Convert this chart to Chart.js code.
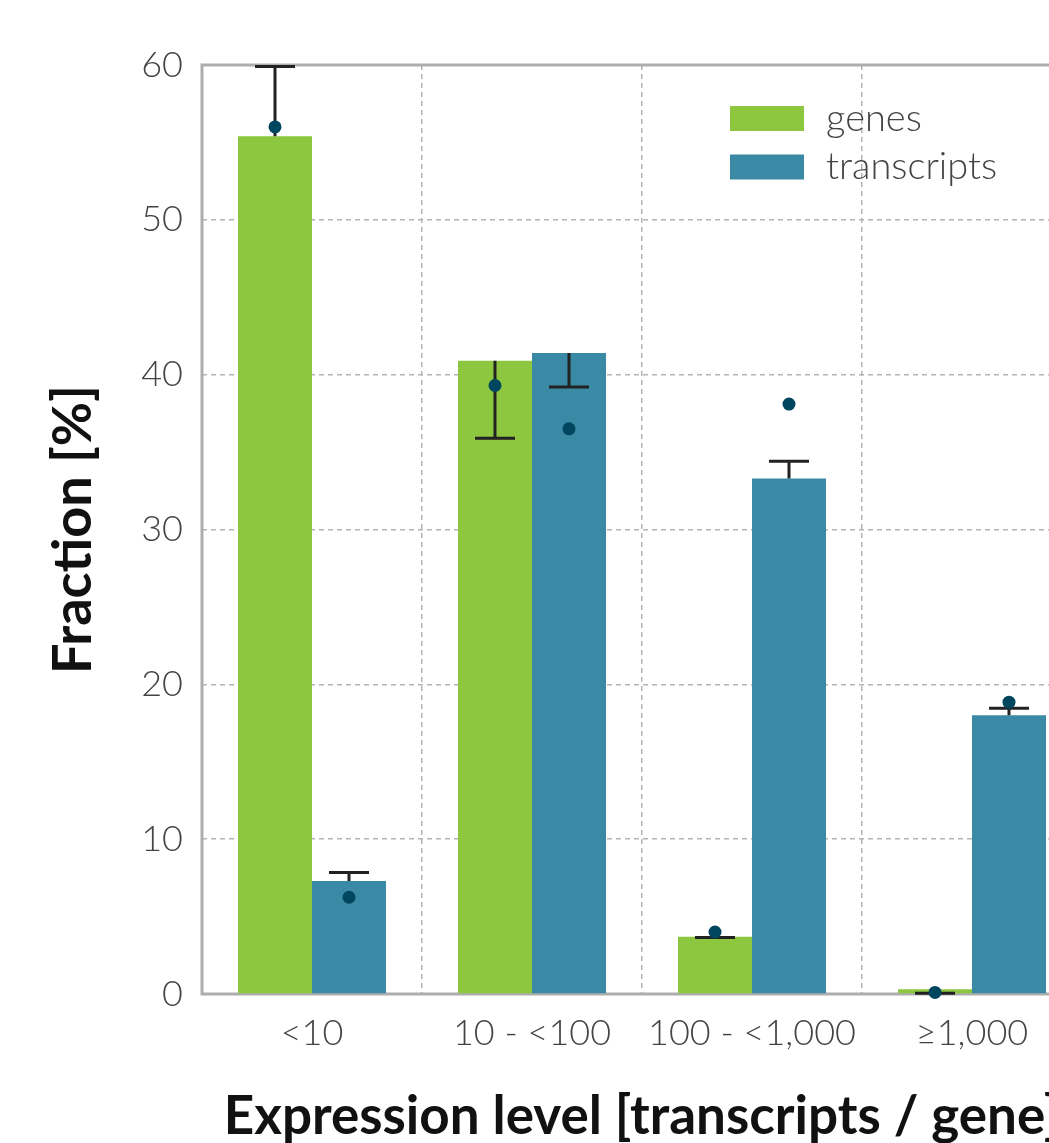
<!DOCTYPE html>
<html>
<head>
<meta charset="utf-8">
<script src="https://cdn.jsdelivr.net/npm/chart.js@4/dist/chart.umd.min.js"></script>
<style>
  html, body { margin: 0; padding: 0; background: #fff; overflow: hidden; }
  #wrap { width: 1100px; height: 1143px; position: relative; }
</style>
</head>
<body>
<div id="wrap"><canvas id="c"></canvas></div>
<script>
const categories = ['<10', '10 - <100', '100 - <1,000', '\u22651,000'];
const seriesNames = ['genes', 'transcripts'];
const genesBar = [55.4, 40.9, 3.7, 0.3];
const genesCap = [59.9, 35.9, 3.65, 0.05];
const genesDot = [56.0, 39.3, 4.0, 0.1];
const transcriptsBar = [7.3, 41.4, 33.3, 18.0];
const transcriptsCap = [7.85, 39.2, 34.4, 18.45];
const transcriptsDot = [6.25, 36.5, 38.1, 18.85];
const yTicks = [0, 10, 20, 30, 40, 50, 60];

const GREEN = '#8dc63f';
const BLUE = '#3a89a5';
const DOT = '#00465f';
const GRID = '#b4b4b4';
const FRAME = '#adadad';
const TICK_FONT = 'Lato';

const caps = [genesCap, transcriptsCap];
const dots = [genesDot, transcriptsDot];

const framePlugin = {
  id: 'frame',
  beforeDatasetsDraw(chart) {
    const {ctx, chartArea: a} = chart;
    ctx.save();
    ctx.strokeStyle = FRAME;
    ctx.lineWidth = 3;
    ctx.setLineDash([]);
    ctx.strokeRect(a.left, a.top, a.right - a.left, a.bottom - a.top);
    ctx.restore();
  }
};

const errPlugin = {
  id: 'errdots',
  afterDatasetsDraw(chart) {
    const {ctx} = chart;
    const y = chart.scales.y;
    ctx.save();
    chart.data.datasets.forEach((ds, i) => {
      const meta = chart.getDatasetMeta(i);
      meta.data.forEach((bar, j) => {
        const x = bar.x;
        const y0 = y.getPixelForValue(ds.data[j]);
        const y1 = y.getPixelForValue(caps[i][j]);
        ctx.strokeStyle = '#222';
        ctx.lineWidth = 3;
        ctx.beginPath();
        ctx.moveTo(x, y0);
        ctx.lineTo(x, y1);
        ctx.moveTo(x - 20, y1);
        ctx.lineTo(x + 20, y1);
        ctx.stroke();
      });
    });
    chart.data.datasets.forEach((ds, i) => {
      const meta = chart.getDatasetMeta(i);
      meta.data.forEach((bar, j) => {
        const yd = y.getPixelForValue(dots[i][j]);
        ctx.fillStyle = DOT;
        ctx.beginPath();
        ctx.arc(bar.x, yd, 6.5, 0, Math.PI * 2);
        ctx.fill();
      });
    });
    ctx.restore();
  }
};

const legendPlugin = {
  id: 'customLegend',
  afterDraw(chart) {
    const {ctx, chartArea: a} = chart;
    ctx.save();
    const x0 = a.left + 528;
    const rows = [a.top + 53.5, a.top + 102];
    chart.data.datasets.forEach((ds, i) => {
      ctx.fillStyle = ds.backgroundColor;
      ctx.fillRect(x0, rows[i] - 12.5, 74, 25);
      ctx.fillStyle = '#444';
      ctx.font = '300 38px ' + TICK_FONT;
      ctx.textBaseline = 'middle';
      ctx.textAlign = 'left';
      ctx.fillText(ds.label, x0 + 96, rows[i]);
    });
    ctx.restore();
  }
};

new Chart(document.getElementById('c'), {
  type: 'bar',
  data: {
    labels: categories,
    datasets: [
      { label: seriesNames[0], data: genesBar, backgroundColor: GREEN, borderWidth: 0 },
      { label: seriesNames[1], data: transcriptsBar, backgroundColor: BLUE, borderWidth: 0 }
    ]
  },
  options: {
    responsive: true,
    maintainAspectRatio: false,
    animation: false,
    events: [],
    layout: { padding: { left: 0, top: 65, right: 18, bottom: 0 } },
    datasets: { bar: { categoryPercentage: 0.6727, barPercentage: 1.0 } },
    plugins: { legend: { display: false }, tooltip: { enabled: false } },
    scales: {
      x: {
        grid: { color: GRID, lineWidth: 1.5, drawTicks: false, offset: true },
        border: { display: false, dash: [5, 4] },
        ticks: { color: '#444', font: { family: TICK_FONT, size: 36, weight: '300' }, padding: 18, maxRotation: 0 },
        title: { display: true, text: 'Expression level [transcripts / gene]', color: '#111',
                 font: { family: TICK_FONT, size: 53, weight: 'bold', lineHeight: 1 }, padding: { top: 0, bottom: 0 } },
        afterFit(s) { s.height = 149; }
      },
      y: {
        min: 0, max: 60,
        afterBuildTicks(s) { s.ticks = yTicks.map(v => ({ value: v })); },
        grid: { color: GRID, lineWidth: 1.5, drawTicks: false },
        border: { display: false, dash: [5, 4] },
        ticks: { color: '#444', font: { family: TICK_FONT, size: 36, weight: '300' }, padding: 19 },
        title: { display: true, text: 'Fraction [%]', color: '#111',
                 font: { family: TICK_FONT, size: 54, weight: 'bold', lineHeight: 1 }, padding: { top: 47, bottom: 0 } },
        afterFit(s) { s.width = 202; }
      }
    }
  },
  plugins: [framePlugin, errPlugin, legendPlugin]
});
</script>
</body>
</html>
